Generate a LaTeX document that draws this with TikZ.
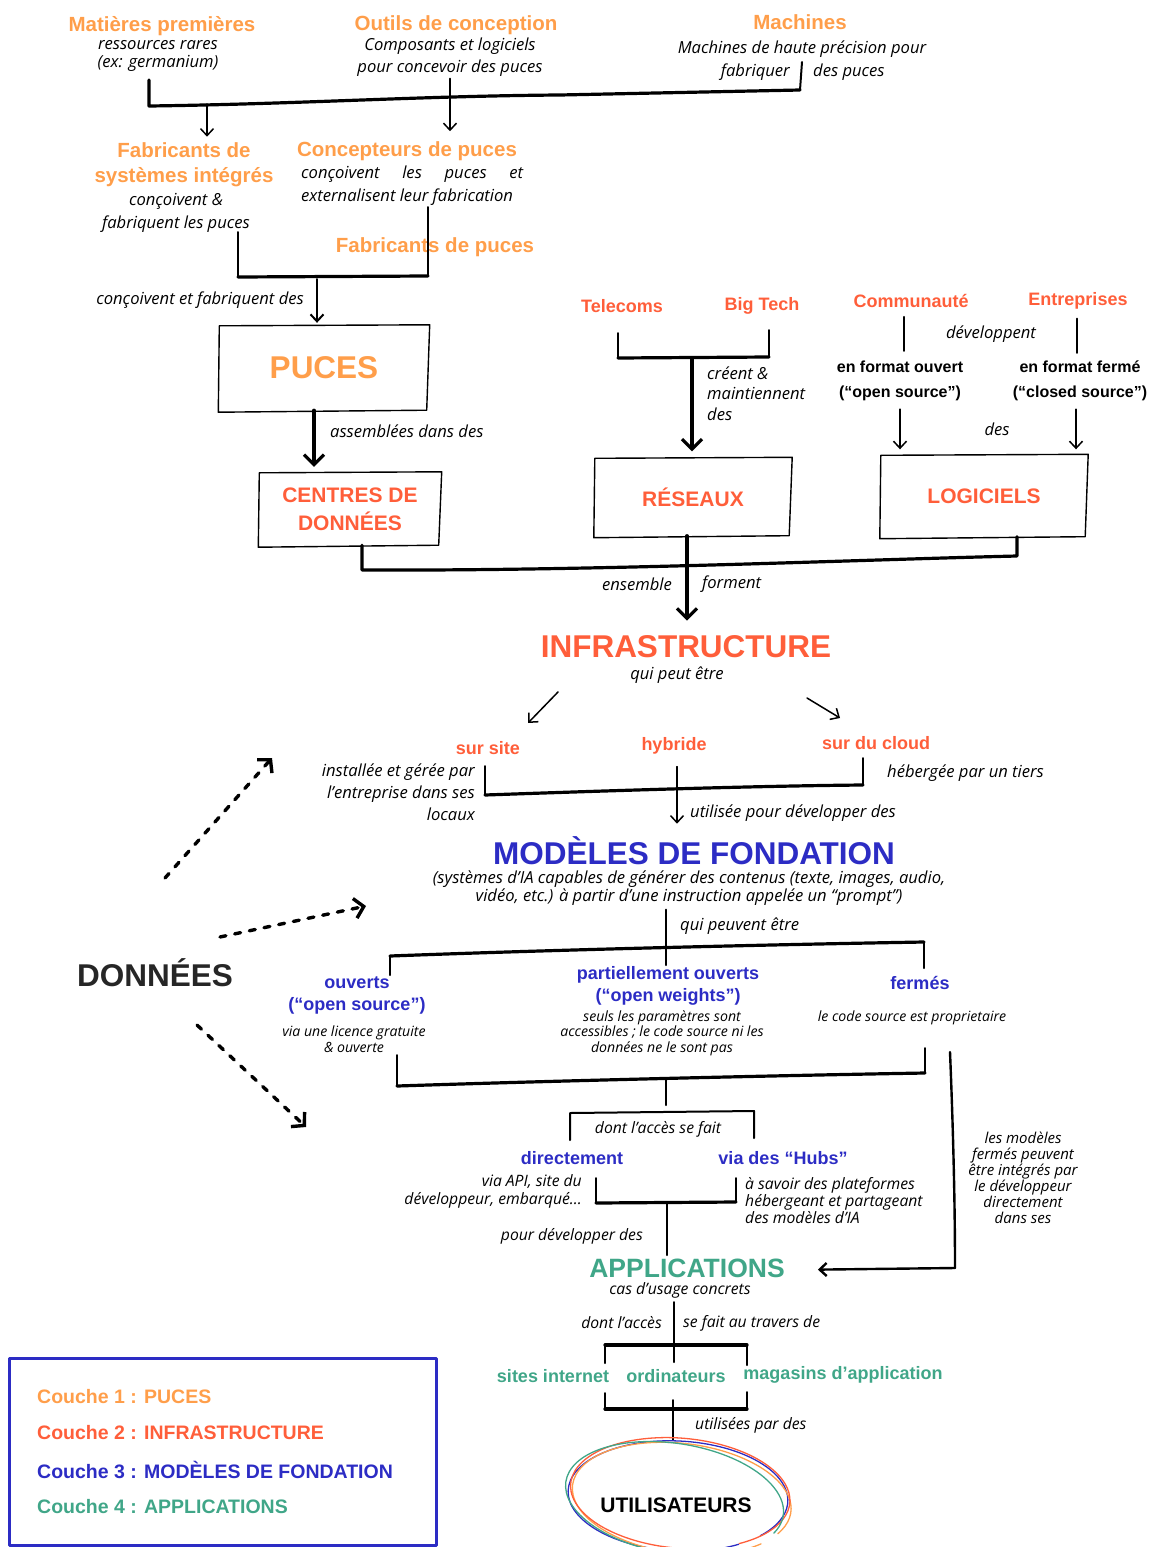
\documentclass[tikz,border=0pt]{standalone}
\usepackage{fontspec}
\setmainfont{Open Sans}
\newfontfamily\titrefont{Liberation Sans}
\usetikzlibrary{arrows.meta}
\definecolor{couchea}{RGB}{255,158,74}
\definecolor{coucheb}{RGB}{255,94,58}
\definecolor{couchec}{RGB}{44,44,196}
\definecolor{couched}{RGB}{64,166,136}
\definecolor{gristxt}{RGB}{38,38,38}

\tikzset{
  tete/.style={font=\titrefont\bfseries\fontsize{20.5}{25}\selectfont,inner sep=0pt,align=center},
  soustete/.style={font=\titrefont\bfseries\fontsize{18}{22}\selectfont,inner sep=0pt,align=center},
  format/.style={font=\titrefont\bfseries\fontsize{16}{25}\selectfont,inner sep=0pt,align=center},
  grostitre/.style={font=\titrefont\bfseries\fontsize{31.5}{36}\selectfont,inner sep=0pt},
  boitetitre/.style={font=\titrefont\bfseries\fontsize{21}{28}\selectfont,inner sep=0pt,align=center},
  legende/.style={font=\titrefont\bfseries\fontsize{19.5}{22}\selectfont,inner sep=0pt,anchor=west},
  note/.style={font=\itshape\fontsize{16.6}{18}\selectfont,inner sep=0pt,align=center},
  notebas/.style={font=\itshape\fontsize{15.7}{17}\selectfont,inner sep=0pt,align=center},
  petitenote/.style={font=\itshape\fontsize{14.1}{15.5}\selectfont,inner sep=0pt,align=center},
  barre/.style={line width=3.2pt},
  trait/.style={line width=2pt},
  fleche/.style={line width=1.5pt,-{Straight Barb[length=7pt,width=13pt]}},
  grossefleche/.style={line width=3.2pt,-{Straight Barb[length=10pt,width=20pt]}},
  pointilles/.style={line width=3.4pt,dash pattern=on 6pt off 9pt,-{Straight Barb[length=9pt,width=20pt]}},
}
\newcommand\croquis[1]{%
  \draw[line width=1.4pt] ([xshift=1pt]#1.north west) -- ([yshift=1pt]#1.north east)
    -- ([xshift=-3pt]#1.south east) -- ([yshift=-2pt]#1.south west) -- cycle;}

\begin{document}
\begin{tikzpicture}[x=1pt,y=-1pt,line cap=round,line join=round]
\useasboundingbox (0,0) rectangle (1151,1547);
\clip (0,0) rectangle (1151,1547);

% couche 1 : puces
\node[tete,couchea] (matieres) at (162,26) {Matières premières};
\node[note] (matieres-t) at (158,56) {ressources rares\\(ex: germanium)};
\node[tete,couchea] (outils) at (456,25) {Outils de conception};
\node[note] (outils-t) at (450,57) {Composants et logiciels\\[4pt]pour concevoir des puces};
\node[tete,couchea] (machines) at (800,22) {Machines};
\node[note] (machines-t) at (802,49) {Machines de haute précision pour};
\node[note,anchor=east] (fabriquer) at (790,72) {fabriquer};
\node[note,anchor=west] (despuces) at (813,72) {des puces};
\node[tete,couchea] (fabsys) at (184,165) {Fabricants de\\systèmes intégrés};
\node[note] (fabsys-t) at (176,213) {conçoivent \&\\[5pt]fabriquent les puces};
\node[tete,couchea] (concep) at (407,151) {Concepteurs de puces};
\node[note,align=left,anchor=west] (concep-t) at (301,186) {\makebox[222pt][s]{conçoivent les puces et}\\[5pt]externalisent leur fabrication};
\node[tete,couchea] (fabpuce) at (435,247) {Fabricants de puces};
\node[note,anchor=east] (concoivent) at (304,300) {conçoivent et fabriquent des};
\node[grostitre,couchea,minimum width=211pt,minimum height=84pt] (puces) at (324,368) {PUCES};
\croquis{puces}
\node[note,anchor=west] (assemblees) at (330,431) {assemblées dans des};

\draw[barre] (149,80) -- (149,106) .. controls (300,104) and (420,96) .. (560,95) -- (800,90);
\draw[trait] (800,90) -- (802,62);
\coordinate (j1) at (207,104);
\draw[fleche,shorten >=6pt] (j1) -- (j1 |- fabsys.north);
\draw[fleche,shorten <=2pt,shorten >=10pt] (outils-t.south) -- (outils-t.south |- concep.north);
\draw[trait] (238,232) -- (238,277);
\draw[barre] (238,277) -- (428,276);
\draw[trait] (428,276) -- (428,207);
\coordinate (j2) at (317,279);
\draw[fleche,line width=2pt,shorten >=3pt] (j2) -- (j2 |- puces.north);

% couche 2 : infrastructure
\node[boitetitre,coucheb,minimum width=183pt,minimum height=72pt] (centres) at (350,509) {CENTRES DE\\DONNÉES};
\croquis{centres}
\draw[grossefleche,shorten >=6pt] ([xshift=-10pt]puces.south) -- ([xshift=-36pt]centres.north);

\node[soustete,coucheb] (telecoms) at (622,306) {Telecoms};
\node[soustete,coucheb] (bigtech) at (762,306) {Big Tech};
\node[note,align=left,anchor=north west] (creent) at (707,367) {créent \&\\[2pt]maintiennent\\[3pt]des};
\node[boitetitre,coucheb,minimum width=198pt,minimum height=77pt] (reseaux) at (693,497) {RÉSEAUX};
\croquis{reseaux}
\draw[trait] (618,333) -- (618,358);
\draw[trait] (769,330) -- (769,357);
\draw[barre] (618,358) -- (769,357);
\coordinate (j3) at (692,358);
\draw[grossefleche,shorten >=7pt] (j3) -- (j3 |- reseaux.north);

\node[soustete,coucheb] (commu) at (911,301) {Communauté};
\node[soustete,coucheb] (entre) at (1078,301) {Entreprises};
\node[note] (developpent) at (991,334) {développent};
\node[format] (ouvert) at (900,381) {en format ouvert\\(“open source”)};
\node[format] (ferme) at (1080,381) {en format fermé\\(“closed source”)};
\node[note] (des) at (997,429) {des};
\node[boitetitre,coucheb,minimum width=208pt,minimum height=81pt] (logiciels) at (984,496) {LOGICIELS};
\croquis{logiciels}
\draw[trait,shorten <=9pt,shorten >=10pt] ([xshift=-7pt]commu.south) -- ([xshift=4pt]ouvert.north);
\draw[trait,shorten <=9pt,shorten >=8pt] ([xshift=-1pt]entre.south) -- ([xshift=-3pt]ferme.north);
\draw[fleche,shorten <=8pt,shorten >=6pt] (ouvert.south) -- (ouvert.south |- logiciels.north);
\draw[fleche,shorten <=8pt,shorten >=6pt] ([xshift=-4pt]ferme.south) -- ([xshift=-4pt]ferme.south |- logiciels.north);

\node[grostitre,coucheb] (infra) at (686,647) {INFRASTRUCTURE};
\node[note] (infra-t) at (677,675) {qui peut être};
\draw[barre] ([xshift=12pt]centres.south) -- (362,570) .. controls (600,571) and (850,560) .. (1017,556) -- ([xshift=33pt]logiciels.south);
\draw[grossefleche,shorten >=15pt] ([xshift=-6pt]reseaux.south) -- ([xshift=-6pt]reseaux.south |- infra.north);
\node[note,anchor=east] (ensemble) at (672,584) {ensemble};
\node[note,anchor=west] (forment) at (702,584) {forment};

\coordinate (g1) at (558,692);
\coordinate (g2) at (528,723);
\coordinate (d1) at (807,698);
\coordinate (d2) at (840,718);
\draw[fleche] (g1) -- (g2);
\draw[fleche] (d1) -- (d2);

\node[soustete,coucheb] (sursite) at (488,748) {sur site};
\node[soustete,coucheb] (hybride) at (674,746) {hybride};
\node[soustete,coucheb] (cloud) at (876,743) {sur du cloud};
\node[note,align=right,anchor=north east] (installee) at (475,764) {installée et gérée par\\[4pt]l'entreprise dans ses\\[4pt]locaux};
\node[note,anchor=west] (hebergee) at (887,773) {hébergée par un tiers};
\node[note,anchor=west] (utilisee) at (690,813) {utilisée pour développer des};
\draw[trait] (485,766) -- (485,795);
\draw[barre] (485,795) .. controls (600,791) and (750,786) .. (863,785);
\draw[trait] (863,785) -- (863,758);

% couche 3 : modeles de fondation
\node[grostitre,couchec] (modeles) at (694,851) {MODÈLES DE FONDATION};
\node[note] (modeles-t) at (689,888) {(systèmes d’IA capables de générer des contenus (texte, images, audio,\\vidéo, etc.) à partir d’une instruction appelée un “prompt”)};
\draw[fleche,shorten <=12pt,shorten >=13pt] ([xshift=3pt]hybride.south) -- ([xshift=3pt]hybride.south |- modeles.north);
\draw[trait,shorten <=4pt] ([xshift=-23pt]modeles-t.south) -- (666,965);
\node[note,anchor=west] (peuvent) at (680,926) {qui peuvent être};
\draw[trait] (390,975) -- (390,956);
\draw[barre] (390,956) .. controls (550,950) and (750,945) .. (924,942);
\draw[trait] (924,942) -- (924,968);

\node[soustete,couchec] (ouverts) at (357,995) {ouverts\\(“open source”)};
\node[petitenote] (ouverts-t) at (354,1039) {via une licence gratuite\\\& ouverte};
\node[soustete,couchec] (partiels) at (668,986) {partiellement ouverts\\(“open weights”)};
\node[petitenote] (partiels-t) at (662,1033) {seuls les paramètres sont\\accessibles ; le code source ni les\\données ne le sont pas};
\node[soustete,couchec] (fermes) at (920,983) {fermés};
\node[petitenote] (fermes-t) at (912,1018) {le code source est proprietaire};

\draw[trait] (397,1055) -- (397,1086);
\draw[barre] (397,1086) .. controls (550,1081) and (750,1076) .. (925,1073);
\draw[trait] (925,1073) -- (925,1048);
\draw[trait] (666,1079) -- (666,1105);
\draw[trait] (570,1140) -- (570,1113) -- (754,1111) -- (754,1138);
\node[notebas] (acces) at (658,1129) {dont l’accès se fait};
\node[soustete,couchec] (direct) at (572,1158) {directement};
\node[soustete,couchec] (hubs) at (783,1158) {via des “Hubs”};
\node[notebas,align=right,anchor=east] (direct-t) at (582,1191) {via API, site du\\[1pt]développeur, embarqué...};
\node[notebas,align=left,anchor=west] (hubs-t) at (745,1201) {à savoir des plateformes\\hébergeant et partageant\\des modèles d’IA};
\draw[trait] (596,1178) -- (596,1203);
\draw[barre] (596,1203) -- (736,1202);
\draw[trait] (736,1202) -- (736,1178);
\draw[trait] (667,1203) -- (667,1255);
\node[notebas,anchor=east] (pourdev) at (643,1236) {pour développer des};
\node[petitenote,font=\itshape\fontsize{15}{16}\selectfont] (integres) at (1023,1178) {les modèles\\fermés peuvent\\être intégrés par\\le développeur\\directement\\dans ses};

% couche 4 : applications
\node[grostitre,couched,font=\titrefont\bfseries\fontsize{26.5}{30}\selectfont] (applis) at (687,1268) {APPLICATIONS};
\node[notebas] (applis-t) at (680,1290) {cas d’usage concrets};
\draw[line width=2.4pt] (950,1052) .. controls (954,1150) and (955,1220) .. (955,1268);
\draw[fleche,line width=2.4pt,shorten >=33pt] (955,1268) -- (applis.east |- 955,1270);
\draw[trait] (674,1302) -- (674,1362);
\node[notebas,anchor=east] (dontacces) at (662,1323) {dont l’accès};
\node[notebas,anchor=west] (autravers) at (683,1323) {se fait au travers de};
\draw[trait] (605,1363) -- (605,1345);
\draw[barre] (605,1345) -- (747,1345);
\draw[trait] (747,1345) -- (747,1365);
\node[soustete,couched] (sites) at (553,1376) {sites internet};
\node[soustete,couched] (ordis) at (676,1376) {ordinateurs};
\node[soustete,couched] (magasins) at (843,1375) {magasins d’application};
\draw[trait] (605,1393) -- (605,1409);
\draw[barre] (605,1409) -- (747,1409);
\draw[trait] (747,1409) -- (747,1392);
\draw[trait] (673,1400) -- (673,1440);
\node[notebas,anchor=west] (utilisees) at (695,1425) {utilisées par des};

\node[boitetitre,black] (users) at (676,1505) {UTILISATEURS};
\foreach \coul/\cx/\cy/\rot/\deb/\fin in {couchec/678/1496/-3/55/400,couchea/682/1498/-7/40/385,coucheb/680/1493/-5/70/415,couched/675/1499/-9/50/380}
  \draw[\coul,line width=1.3pt,rotate around={\rot:(678,1496)}] (\cx,\cy) ++(\deb:110 and 55) arc[start angle=\deb,end angle=\fin,x radius=110,y radius=55];

% donnees
\node[grostitre,gristxt] (donnees) at (155,973) {DONNÉES};
\coordinate (p1) at (165,878);
\coordinate (p2) at (272,758);
\coordinate (q1) at (220,937);
\coordinate (q2) at (366,906);
\coordinate (r1) at (197,1025);
\coordinate (r2) at (306,1127);
\draw[pointilles] (p1) -- (p2);
\draw[pointilles] (q1) -- (q2);
\draw[pointilles] (r1) -- (r2);

% legende
\draw[couchec,line width=3pt] (9,1358) rectangle (436,1545);
\node[legende,couchea] (leg1) at (37,1397) {Couche 1 : PUCES};
\node[legende,coucheb] (leg2) at (37,1433) {Couche 2 : INFRASTRUCTURE};
\node[legende,couchec] (leg3) at (37,1470) {Couche 3 : MODÈLES DE FONDATION};
\node[legende,couched] (leg4) at (37,1507) {Couche 4 : APPLICATIONS};
\end{tikzpicture}
\end{document}
